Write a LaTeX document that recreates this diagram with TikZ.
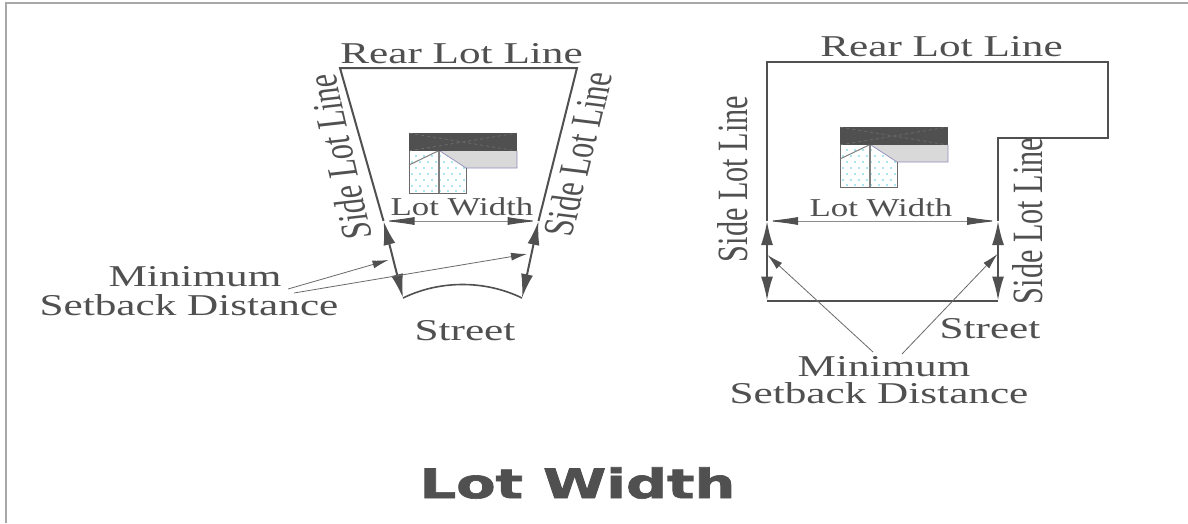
\documentclass[tikz,border=0pt]{standalone}
\usepackage{fontspec}
\usepackage{graphicx}
\setmainfont{Liberation Serif}
\newfontfamily\titlefont[BoldFeatures={FakeBold=1.5}]{DejaVu Sans}
\usetikzlibrary{arrows.meta}
\definecolor{ink}{HTML}{505050}
\definecolor{frameg}{HTML}{A8A8A8}
\definecolor{wing}{HTML}{D9D9D9}
\definecolor{dotc}{HTML}{55CCE0}
\newcommand{\lbl}[3]{\scalebox{#1}[#2]{#3}}
\newcommand{\bigtxt}[1]{\scalebox{1.8}[1.26]{#1}}
\newcommand{\smalltxt}[1]{\scalebox{1.45}[1.07]{#1}}
\tikzset{
  lbltext/.style={inner sep=0pt,text=ink,font=\fontsize{24}{24}\selectfont},
  lotline/.style={draw=ink,line width=2pt,line join=miter},
  setback/.style={draw=ink,line width=2pt,{Latex[length=24pt,width=12pt]}-{Latex[length=24pt,width=12pt]}},
  widtharrow/.style={draw=ink!65,line width=1pt,{Latex[length=31pt,width=8pt,color=ink]}-{Latex[length=31pt,width=8pt,color=ink]}},
  leader/.style={draw=ink!85,line width=.8pt,-{Latex[length=16pt,width=8pt,color=ink]}},
}
\newcommand{\house}[2]{%
\begin{scope}[shift={(#1,#2)}]
  \fill[white] (409,151) -- (440,151) -- (466,168) -- (466,193) -- (409,193) -- cycle;
  \foreach \yy [count=\ii] in {156,162,168,174,180,186,191}{
    \foreach \xx in {412,420,...,460}{
      \pgfmathparse{int(mod(\ii,2))}
      \fill[dotc] ({\xx+4*\pgfmathresult},\yy) circle (.8);
    }
  }
  \fill[white] (441,150) -- (470,150) -- (470,168) -- (466,168) -- cycle;
  \fill[wing] (440,151) -- (466,168) -- (517,168) -- (517,151) -- cycle;
  \draw[draw=blue!25!gray!70,line width=.7pt] (440,151) -- (466,168) -- (517,168) -- (517,151);
  \fill[ink] (409,133) rectangle (517,151);
  \draw[ink!70!white,line width=.4pt,dashed] (409,133) -- (517,151) (409,151) -- (517,133);
  \draw[ink!85,line width=1pt] (409,151) -- (409,193) -- (466,193) -- (466,168);
  \draw[gray,line width=1.3pt] (439,151) -- (439,193);
  \draw[gray,line width=1pt] (409,165) -- (438,151);
\end{scope}}
\begin{document}
\begin{tikzpicture}[x=1pt,y=-1pt]
\useasboundingbox (0,0) rectangle (1188,523);
\fill[white] (0,0) rectangle (1188,523);
\draw[frameg,line width=1.6pt] (1188,3) -- (6,3) -- (6,523);

% left lot
\coordinate (ltl) at (340,68);
\coordinate (ltr) at (577,68);
\coordinate (lbl) at (403,298);
\coordinate (lbr) at (522,298);
\coordinate (lml) at (383.5,221);
\coordinate (lmr) at (538.5,221);
\draw[lotline] (lml) -- (ltl) -- (ltr) -- (lmr);
\draw[lotline,line width=1.6pt] (lbl) .. controls (440,280) and (485,280) .. (lbr);
\draw[setback] (lml) -- (lbl);
\draw[setback] (lmr) -- (lbr);
\draw[widtharrow] (lml) -- (lmr);
\house{0}{0}

% right lot
\coordinate (rtl) at (767,62);
\coordinate (rtr) at (1108,62);
\coordinate (rnr) at (1108,138);
\coordinate (rnl) at (998,138);
\coordinate (rbl) at (767,300.5);
\coordinate (rbr) at (998,300.5);
\coordinate (rml) at (767,221);
\coordinate (rmr) at (998,221);
\draw[lotline] (rml) -- (rtl) -- (rtr) -- (rnr) -- (rnl) -- (rmr);
\draw[lotline] (rbl) -- (rbr);
\draw[setback] (rml) -- (rbl);
\draw[setback] (rmr) -- (rbr);
\draw[widtharrow] (rml) -- (rmr);
\house{431}{-6}

% labels
\node[lbltext] (t1) at (461.5,54) {\bigtxt{Rear Lot Line}};
\node[lbltext] (t2) at (941.5,47) {\bigtxt{Rear Lot Line}};
\node[lbltext] (t3) at (339,157) {\bigtxt{\rotatebox{99}{Side Lot Line}}};
\node[lbltext] (t4) at (578,154) {\bigtxt{\rotatebox{80}{Side Lot Line}}};
\node[lbltext] (t5) at (733,179) {\bigtxt{\rotatebox{90}{Side Lot Line}}};
\node[lbltext] (t6) at (1028,221) {\bigtxt{\rotatebox{90}{Side Lot Line}}};
\node[lbltext] (t7) at (462,207) {\smalltxt{Lot Width}};
\node[lbltext] (t8) at (881,208) {\smalltxt{Lot Width}};
\node[lbltext] (t9) at (195,277) {\bigtxt{Minimum}};
\node[lbltext] (t10) at (189,305) {\bigtxt{Setback Distance}};
\node[lbltext] (t11) at (465,331) {\bigtxt{Street}};
\node[lbltext] (t12) at (990,329) {\bigtxt{Street}};
\node[lbltext] (t13) at (884,366.5) {\bigtxt{Minimum}};
\node[lbltext] (t14) at (879,393) {\bigtxt{Setback Distance}};
\node[inner sep=0pt,text=ink] (t15) at (577.5,483) {\titlefont\bfseries\fontsize{38}{38}\selectfont\lbl{1.51}{1.07}{Lot Width}};

% leaders
\coordinate (a1) at (288,289);
\coordinate (b1) at (388.5,260);
\coordinate (a2) at (294,293);
\coordinate (b2) at (527,254);
\coordinate (a3) at (873,352);
\coordinate (b3) at (767.5,255);
\coordinate (a4) at (902,354);
\coordinate (b4) at (997.5,254);
\draw[leader] (a1) -- (b1);
\draw[leader] (a2) -- (b2);
\draw[leader] (a3) -- (b3);
\draw[leader] (a4) -- (b4);
\end{tikzpicture}
\end{document}
